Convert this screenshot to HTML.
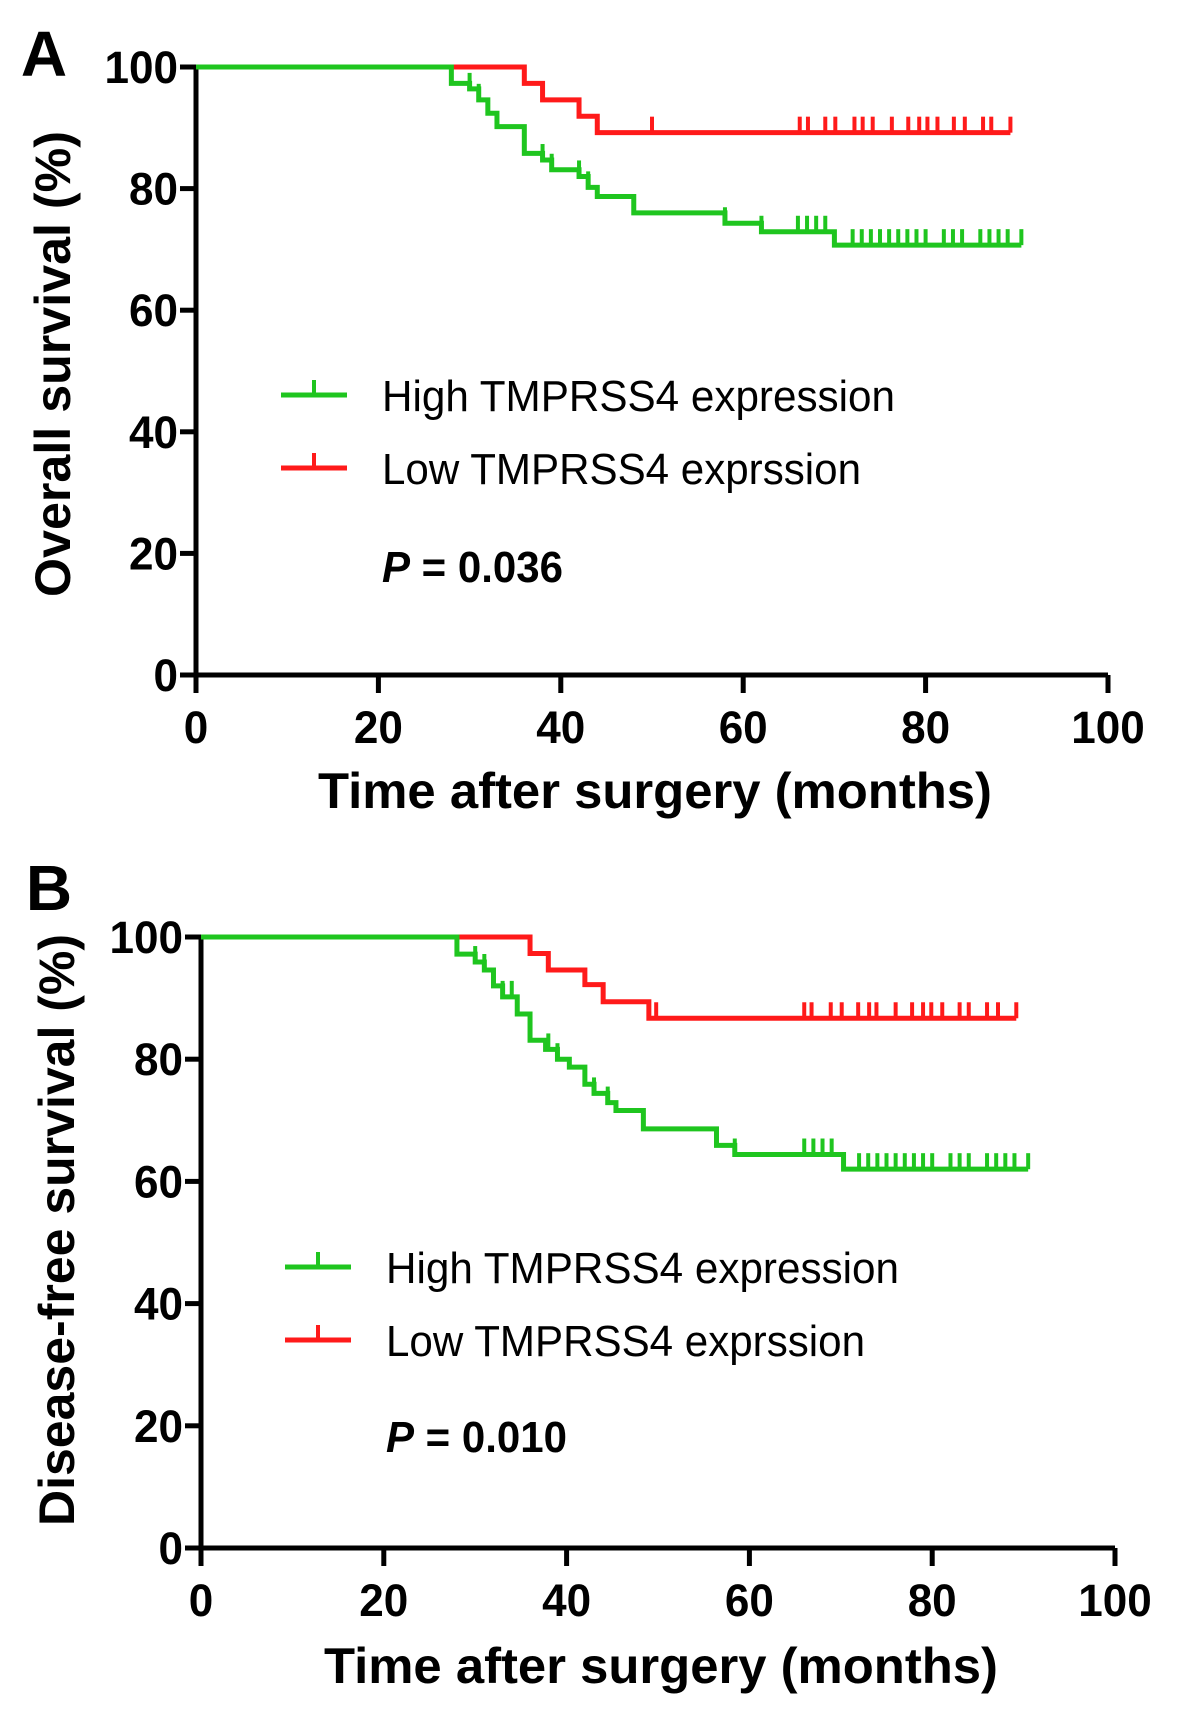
<!DOCTYPE html>
<html><head><meta charset="utf-8"><style>
html,body{margin:0;padding:0;background:#fff;}
svg{display:block;}
text{font-family:"Liberation Sans",Arial,sans-serif;}
</style></head><body>
<svg id="fig" width="1181" height="1714" viewBox="0 0 1181 1714" xmlns="http://www.w3.org/2000/svg"></svg>
<script>
// ---- Panel A data (Overall survival) ----
const xTicks = [0, 20, 40, 60, 80, 100];
const yTicks = [0, 20, 40, 60, 80, 100];
const aHighTimes = [0, 28, 30, 31, 32, 33, 36, 38, 39, 42, 43, 44, 48, 58, 62, 70, 90.5];
const aHighVals  = [100, 97.3, 96.4, 94.6, 92.4, 90.2, 85.8, 84.7, 83.1, 82.0, 80.2, 78.7, 76.0, 74.3, 72.9, 70.7, 70.7];
const aHighCens  = [30, 31, 38, 39, 42, 43, 58, 62, 66, 67, 68, 69, 72, 73, 74, 75, 76, 77, 78, 79, 80, 82, 83, 84, 86, 87, 88, 89, 90.5];
const aLowTimes = [0, 36, 38, 42, 44, 89.3];
const aLowVals  = [100, 97.3, 94.6, 91.9, 89.2, 89.2];
const aLowCens  = [50, 66.2, 67.1, 69, 70.1, 72.2, 73.1, 74.2, 76.3, 78.1, 79.3, 80.2, 81.3, 83.1, 84.3, 86.3, 87.2, 89.3];
// ---- Panel B data (Disease-free survival) ----
const bHighTimes = [0, 28, 30, 31, 32, 33, 34.6, 36, 37.7, 39, 40.3, 42, 43, 44.5, 45.4, 48.4, 56.4, 58.4, 70.3, 90.5];
const bHighVals  = [100, 97.2, 95.9, 94.6, 92.0, 90.2, 87.4, 83.1, 81.6, 80.0, 78.7, 75.9, 74.4, 72.9, 71.6, 68.6, 65.9, 64.4, 62.0, 62.0];
const bHighCens  = [30, 31, 33, 34, 38, 39, 42, 43, 44.5, 58.4, 66, 67, 68, 69, 72, 73, 74, 75, 76, 77, 78, 79, 80, 82, 83, 84, 86, 87, 88, 89, 90.5];
const bLowTimes = [0, 36, 38, 42, 44, 49, 89.2];
const bLowVals  = [100, 97.3, 94.6, 92.2, 89.4, 86.7, 86.7];
const bLowCens  = [49.8, 66, 66.8, 68.9, 70.1, 71.9, 73.1, 73.9, 76, 77.8, 79, 79.9, 81.1, 83, 84, 86, 87.2, 89.2];

const GREEN = '#1fc51f', RED = '#ff1a1a';
const NS = 'http://www.w3.org/2000/svg';
const svg = document.getElementById('fig');
function el(tag, attrs, parent, txt){
  const e = document.createElementNS(NS, tag);
  for (const k in attrs) e.setAttribute(k, attrs[k]);
  if (txt !== undefined) e.textContent = txt;
  (parent || svg).appendChild(e);
  return e;
}

function panel(p){
  const g = el('g', {});
  
  
  const X = v => p.x0 + (p.x1 - p.x0) * v / 100;
  const Y = v => p.y0 - (p.y0 - p.y1) * v / 100;
  const L = el('text', {x: p.lx, y: p.ly, 'font-size': 64, 'font-weight': 'bold', 'text-anchor': 'middle'}, g, p.letter);
  
  
  const ax = el('path', {d: `M${X(0)},${Y(100)} V${Y(0)} H${X(100)}`, stroke: '#000', 'stroke-width': 5, fill: 'none'}, g);
  
  
  yTicks.forEach(t => {
    el('line', {x1: X(0) - 16, x2: X(0), y1: Y(t), y2: Y(t), stroke: '#000', 'stroke-width': 5}, g);
    const s = String(t);
    const tl = el('text', {x: X(0) - 18, y: Y(t) + 16, 'font-size': 45, 'font-weight': 'bold', 'text-anchor': 'end', textLength: s.length * 24.5, lengthAdjust: 'spacingAndGlyphs'}, g, s);
    
    
  });
  xTicks.forEach(t => {
    el('line', {x1: X(t), x2: X(t), y1: Y(0), y2: Y(0) + 18, stroke: '#000', 'stroke-width': 5}, g);
    const s = String(t);
    const tl = el('text', {x: X(t), y: Y(0) + 68, 'font-size': 45, 'font-weight': 'bold', 'text-anchor': 'middle', textLength: s.length * 24.5, lengthAdjust: 'spacingAndGlyphs'}, g, s);
    
    
  });
  const xt = el('text', {x: p.xtx, y: p.xty, 'font-size': 50, 'font-weight': 'bold', 'text-anchor': 'middle', textLength: 674, lengthAdjust: 'spacingAndGlyphs'}, g, 'Time after surgery (months)');
  
  
  const yt = el('text', {x: 0, y: 0, 'font-size': 50, 'font-weight': 'bold', 'text-anchor': 'middle', textLength: p.ytlen, lengthAdjust: 'spacingAndGlyphs', transform: `translate(${p.ytx},${p.yty}) rotate(-90)`}, g, p.ytitle);
  
  
  function curve(times, vals, cens, color, name){
    let d = `M${X(times[0])},${Y(vals[0])}`;
    for (let i = 1; i < times.length; i++){
      d += ` H${X(times[i])} V${Y(vals[i])}`;
    }
    const c = el('path', {d, stroke: color, 'stroke-width': 5, fill: 'none'}, g);
    
    
    cens.forEach(t => {
      let v = vals[0];
      for (let i = 0; i < times.length; i++) if (times[i] <= t) v = vals[i];
      const m = el('line', {x1: X(t), x2: X(t), y1: Y(v), y2: Y(v) - 16, stroke: color, 'stroke-width': 4}, g);
      
      
    });
  }
  curve(p.lowT, p.lowV, p.lowC, RED, 'low-expression-curve');
  curve(p.highT, p.highV, p.highC, GREEN, 'high-expression-curve');
  [[GREEN, 'High TMPRSS4 expression', p.lg1, 513], [RED, 'Low TMPRSS4 exprssion', p.lg2, 479]].forEach(([c, t, y, w]) => {
    const lg = el('g', {}, g);
    
    
    el('line', {x1: p.lgx, x2: p.lgx + 66, y1: y, y2: y, stroke: c, 'stroke-width': 5}, lg);
    el('line', {x1: p.lgx + 33, x2: p.lgx + 33, y1: y, y2: y - 15, stroke: c, 'stroke-width': 4}, lg);
    el('text', {x: p.lgx + 101, y: y + 16, 'font-size': 44, textLength: w, lengthAdjust: 'spacingAndGlyphs'}, lg, t);
  });
  const pt = el('text', {x: p.lgx + 101, y: p.py + 16, 'font-size': 44, 'font-weight': 'bold', textLength: 181, lengthAdjust: 'spacingAndGlyphs'}, g);
  
  
  el('tspan', {'font-style': 'italic'}, pt, 'P');
  el('tspan', {}, pt, ' = ' + p.pval);
}

panel({name: 'panel-a-overall-survival', letter: 'A', lx: 44, ly: 76,
  x0: 196, x1: 1108, y0: 675, y1: 67,
  xtx: 655, xty: 808, ytx: 70, yty: 364, ytitle: 'Overall survival (%)', ytlen: 466,
  highT: aHighTimes, highV: aHighVals, highC: aHighCens,
  lowT: aLowTimes, lowV: aLowVals, lowC: aLowCens,
  lgx: 281, lg1: 395, lg2: 468, py: 566, pval: '0.036'});
panel({name: 'panel-b-disease-free-survival', letter: 'B', lx: 49, ly: 910,
  x0: 201, x1: 1115, y0: 1548, y1: 937,
  xtx: 661, xty: 1683, ytx: 74, yty: 1230, ytitle: 'Disease-free survival (%)', ytlen: 592,
  highT: bHighTimes, highV: bHighVals, highC: bHighCens,
  lowT: bLowTimes, lowV: bLowVals, lowC: bLowCens,
  lgx: 285, lg1: 1267, lg2: 1340, py: 1436, pval: '0.010'});
</script>
</body></html>
